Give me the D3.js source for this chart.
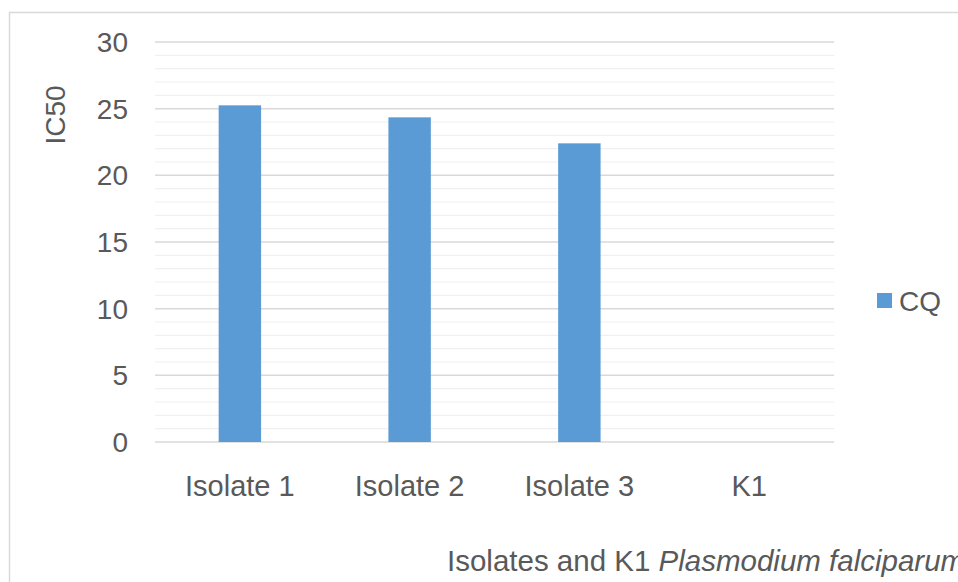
<!DOCTYPE html>
<html><head><meta charset="utf-8">
<script src="https://cdn.jsdelivr.net/npm/d3@7"></script>
<style>body{margin:0;background:#fff}svg{display:block}text{font-family:"Liberation Sans",Arial,sans-serif;fill:#595959}</style>
</head><body>
<svg id="c" width="958" height="582"></svg>
<script>
const categories = ["Isolate 1","Isolate 2","Isolate 3","K1"];
const seriesName = "CQ";
const cqValues = [25.25, 24.35, 22.4, 0];
const yTicks = [0,5,10,15,20,25,30];
const yMinorTicks = d3.range(0,31,1);

const svg = d3.select("#c");
const plot={left:155,right:834,top:42,bottom:442};

svg.append("rect").attr("x",9.5).attr("y",12.5).attr("width",980).attr("height",620)
  .attr("fill","#fff").attr("stroke","#d9d9d9").attr("stroke-width",1.5);

const x=d3.scaleBand().domain(categories).range([plot.left,plot.right]).paddingInner(0.75).paddingOuter(0.375);
const y=d3.scaleLinear().domain([0,30]).range([plot.bottom,plot.top]);

const g=svg.append("g");
g.selectAll("line.minor").data(yMinorTicks.filter(v=>v%5!==0)).join("line")
  .attr("x1",plot.left).attr("x2",plot.right).attr("y1",d=>y(d)).attr("y2",d=>y(d))
  .attr("stroke","#f0f0f0").attr("stroke-width",1.2);
g.selectAll("line.major").data(yTicks).join("line")
  .attr("x1",plot.left).attr("x2",plot.right).attr("y1",d=>y(d)).attr("y2",d=>y(d))
  .attr("stroke","#d9d9d9").attr("stroke-width",1.5);

g.selectAll("rect.bar").data(categories.map((c,i)=>({c,v:cqValues[i]}))).join("rect")
  .attr("x",d=>x(d.c)).attr("width",x.bandwidth()).attr("y",d=>y(d.v)).attr("height",d=>y(0)-y(d.v))
  .attr("fill","#5b9bd5");

g.selectAll("text.yt").data(yTicks).join("text")
  .attr("x",128).attr("y",d=>y(d)).attr("dy","0.36em").attr("text-anchor","end")
  .attr("font-size",28).text(d=>d);

g.selectAll("text.xt").data(categories).join("text")
  .attr("x",d=>x(d)+x.bandwidth()/2).attr("y",496).attr("text-anchor","middle")
  .attr("font-size",29).text(d=>d);

svg.append("text").attr("transform","translate(65,115) rotate(-90)").attr("text-anchor","middle")
  .attr("font-size",28).text("IC50");

const xt=svg.append("text").attr("x",447).attr("y",571).attr("font-size",29.5);
xt.append("tspan").text("Isolates and K1 ");
xt.append("tspan").attr("font-style","italic").text("Plasmodium falciparum");

svg.append("rect").attr("x",877).attr("y",293).attr("width",15).attr("height",15).attr("fill","#5b9bd5");
svg.append("text").attr("x",899).attr("y",300.5).attr("dy","0.36em").attr("font-size",28).text(seriesName);
</script>
</body></html>
